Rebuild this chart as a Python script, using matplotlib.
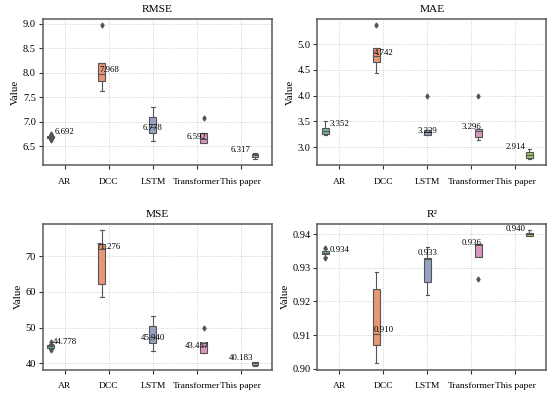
import colorsys
import matplotlib
matplotlib.use("Agg")
import matplotlib.pyplot as plt
import matplotlib.colors as mcolors

plt.rcParams['font.family'] = ['Liberation Serif', 'DejaVu Serif']

## Data
models = ["AR", "DCC", "LSTM", "Transformer", "This paper"]
palette = ["#66c2a5", "#fc8d62", "#8da0cb", "#e78ac3", "#a6d854"]

rmse_lo = [6.655, 7.62, 6.60, 6.555, 6.235]
rmse_q1 = [6.675, 7.83, 6.76, 6.555, 6.27]
rmse_med = [6.69, 7.97, 6.90, 6.64, 6.31]
rmse_q3 = [6.705, 8.20, 7.10, 6.76, 6.335]
rmse_hi = [6.725, 8.20, 7.30, 6.76, 6.35]
rmse_fliers = [[6.755, 6.635], [8.97], [], [7.07], []]
rmse_label = [6.692, 7.968, 6.778, 6.592, 6.317]

mae_lo = [3.24, 4.44, 3.23, 3.14, 2.77]
mae_q1 = [3.26, 4.65, 3.23, 3.19, 2.785]
mae_med = [3.32, 4.77, 3.29, 3.31, 2.85]
mae_q3 = [3.37, 4.93, 3.34, 3.35, 2.915]
mae_hi = [3.50, 4.93, 3.34, 3.35, 2.96]
mae_fliers = [[], [5.37], [3.99], [3.99], []]
mae_label = [3.352, 4.742, 3.229, 3.296, 2.914]

mse_lo = [44.0, 58.6, 43.6, 42.8, 39.2]
mse_q1 = [44.4, 62.3, 45.8, 42.8, 39.7]
mse_med = [44.8, 72.0, 47.3, 44.9, 40.1]
mse_q3 = [45.1, 73.5, 50.4, 45.6, 40.5]
mse_hi = [45.4, 77.3, 53.4, 45.6, 40.5]
mse_fliers = [[45.9, 43.7], [], [], [50.0], []]
mse_label = [44.778, 71.276, 45.940, 43.457, 40.183]

r2_lo = [0.9332, 0.9017, 0.9220, 0.9332, 0.9393]
r2_q1 = [0.9340, 0.9072, 0.9259, 0.9332, 0.9395]
r2_med = [0.9345, 0.9104, 0.9327, 0.9368, 0.9400]
r2_q3 = [0.9350, 0.9237, 0.9329, 0.9371, 0.9403]
r2_hi = [0.9355, 0.9289, 0.9361, 0.9371, 0.9411]
r2_fliers = [[0.9359, 0.9329], [], [], [0.9267], []]
r2_label = [0.934, 0.910, 0.933, 0.936, 0.940]

panels = [
    ("RMSE", rmse_lo, rmse_q1, rmse_med, rmse_q3, rmse_hi, rmse_fliers, rmse_label, (6.11, 9.10)),
    ("MAE", mae_lo, mae_q1, mae_med, mae_q3, mae_hi, mae_fliers, mae_label, (2.65, 5.49)),
    ("MSE", mse_lo, mse_q1, mse_med, mse_q3, mse_hi, mse_fliers, mse_label, (38.2, 79.1)),
    ("R\u00b2", r2_lo, r2_q1, r2_med, r2_q3, r2_hi, r2_fliers, r2_label, (0.8997, 0.9431)),
]


def desat(c, f=0.75):
    r, g, b = mcolors.to_rgb(c)
    h, l, s = colorsys.rgb_to_hls(r, g, b)
    return colorsys.hls_to_rgb(h, l, s * f)


edge = "#555555"
fig, axes = plt.subplots(2, 2, figsize=(5.5, 3.96), dpi=100)
fig.subplots_adjust(left=0.078, right=0.993, bottom=0.066, top=0.952, wspace=0.20, hspace=0.40)

n = len(models)
# hue-dodged positions: each model sits in its own slot of its category
pos = [i + (i - (n - 1) / 2) * 0.16 for i in range(n)]

for ax, (title, lo, q1, med, q3, hi, fl, lab, ylim) in zip(axes.flat, panels):
    stats = []
    for i in range(n):
        stats.append(dict(label=models[i], whislo=lo[i], q1=q1[i], med=med[i],
                          q3=q3[i], whishi=hi[i], fliers=fl[i]))
    bp = ax.bxp(stats, positions=pos, widths=0.155, patch_artist=True,
                manage_ticks=False,
                boxprops=dict(edgecolor=edge, linewidth=0.8),
                whiskerprops=dict(color=edge, linewidth=0.8),
                capprops=dict(color=edge, linewidth=0.8),
                medianprops=dict(color=edge, linewidth=0.8),
                flierprops=dict(marker='d', markerfacecolor=edge,
                                markeredgecolor=edge, markersize=2.5))
    for patch, c in zip(bp['boxes'], palette):
        patch.set_facecolor(desat(c))
    for i in range(n):
        ax.annotate("{:.3f}".format(lab[i]), (i, lab[i]), xytext=(0, 0.5),
                    textcoords='offset points', ha='center', va='bottom',
                    fontsize=6.3)
    ax.set_xticks(range(n))
    ax.set_xticklabels(models, fontsize=6.8)
    ax.set_xlim(-0.5, 4.7)
    ax.set_ylim(*ylim)
    ax.set_title(title, fontsize=8.2, pad=5)
    ax.set_ylabel("Value", fontsize=8, labelpad=2)
    ax.tick_params(length=3, width=0.8, color="#333333")
    ax.tick_params(axis='x', pad=6)
    ax.tick_params(axis='y', labelsize=7.5, pad=2)
    ax.grid(True, linestyle=':', color='#c4c4c4', linewidth=0.6)
    ax.set_axisbelow(True)
    for s in ax.spines.values():
        s.set_color("#5a5a5a")
        s.set_linewidth(1.1)

plt.savefig("out.png", dpi=100)
